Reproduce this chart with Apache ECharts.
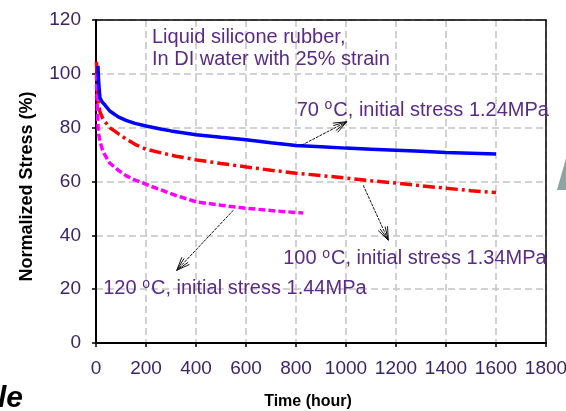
<!DOCTYPE html>
<html>
<head>
<meta charset="utf-8">
<script src="https://cdn.jsdelivr.net/npm/echarts@6/dist/echarts.min.js"></script>
<style>html,body{margin:0;padding:0;background:#fff;}#c{width:566px;height:411px;}</style>
</head>
<body>
<div id="c"></div>
<script>
// ---- data ----
const time70 = [8, 10, 13, 16, 25, 36, 55, 89, 120, 156, 200, 263, 300, 400, 500, 600, 700, 800, 900, 1000, 1100, 1200, 1300, 1400, 1500, 1600];
const stress70 = [103, 98, 94, 91, 89.5, 88.4, 86.2, 84, 82.7, 81.6, 80.6, 79.4, 78.8, 77.4, 76.4, 75.5, 74.4, 73.4, 72.9, 72.4, 72.0, 71.6, 71.2, 70.8, 70.5, 70.2];
const time100 = [2, 5, 9, 16, 25, 36, 55, 89, 120, 156, 200, 263, 320, 403, 500, 603, 700, 800, 900, 1000, 1100, 1200, 1300, 1400, 1500, 1600];
const stress100 = [104.5, 96, 89, 85.9, 83.8, 82.2, 80, 77.8, 75.8, 73.8, 72, 70.6, 69.4, 68, 66.7, 65.4, 64.2, 63.1, 62.2, 61.3, 60.3, 59.4, 58.4, 57.5, 56.6, 55.9];
const time120 = [2, 5, 9, 16, 25, 36, 55, 89, 120, 156, 176, 220, 263, 320, 403, 500, 576, 700, 829];
const stress120 = [100, 88, 78.4, 75, 72, 69.8, 66.8, 64.2, 62.2, 60.5, 59.9, 58.2, 56.8, 54.8, 52.4, 51.2, 50.3, 49.2, 48.3];

const xTicks = [0, 200, 400, 600, 800, 1000, 1200, 1400, 1600, 1800];
const yTicks = [0, 20, 40, 60, 80, 100, 120];

const noteTitle = ['Liquid silicone rubber,', 'In DI water with 25% strain'];
const noteTitlePos = [[224, 113.4], [224, 105.5]];
const labelTemps = ['70 ', '100 ', '120 '];
const labelRest = ['C, initial stress 1.24MPa', 'C, initial stress 1.34MPa', 'C, initial stress 1.44MPa'];
const labelPos = [[803, 86.5], [749, 31.3], [29, 20.1]];
// arrows: [from, to] in data coords
const arrows = [
  [[823, 73.5], [1003, 82.2]],
  [[1069, 58.6], [1169, 38.2]],
  [[549, 49.3], [323, 27.0]]
];

const toPairs = (xs, ys) => xs.map((x, i) => [x, ys[i]]);
const tickColor = '#3d2468';
const noteColor = '#5a2a86';
const FONT = 'Liberation Sans, Arial, sans-serif';
const gridLine = {show: true, lineStyle: {color: '#c4c4c4', width: 1.5, type: [7, 4]}};

const chart = echarts.init(document.getElementById('c'), null, {renderer: 'canvas'});
chart.setOption({
  animation: false,
  backgroundColor: '#fff',
  grid: {left: 96, right: 20, top: 20, bottom: 68, containLabel: false, outerBoundsMode: 'none'},
  xAxis: [{
    type: 'value', min: xTicks[0], max: xTicks[xTicks.length - 1], interval: 200,
    name: 'Time (hour)', nameLocation: 'middle', nameGap: 51,
    nameTextStyle: {fontFamily: FONT, fontSize: 16, fontWeight: 'bold', color: '#000', padding: [0, 26, 0, 0]},
    axisLine: {show: true, lineStyle: {color: '#000', width: 2}},
    axisTick: {show: true, length: 4, inside: false, lineStyle: {color: '#000', width: 1.5}},
    axisLabel: {fontFamily: FONT, fontSize: 19, color: tickColor, margin: 16, showMaxLabel: true,
      formatter: v => String(v)},
    splitLine: gridLine
  }, {
    type: 'value', position: 'top', min: xTicks[0], max: xTicks[xTicks.length - 1], interval: 200,
    axisLine: {show: true, onZero: false, lineStyle: {color: '#000', width: 1.5}},
    axisTick: {show: false}, axisLabel: {show: false}, splitLine: {show: false}
  }],
  yAxis: [{
    type: 'value', min: yTicks[0], max: yTicks[yTicks.length - 1], interval: 20,
    name: 'Normalized Stress (%)', nameLocation: 'middle', nameGap: 60, nameRotate: 90,
    nameTextStyle: {fontFamily: FONT, fontSize: 18, fontWeight: 'bold', color: '#000', padding: [0, 10, 0, 0]},
    axisLine: {show: true, lineStyle: {color: '#000', width: 2}},
    axisTick: {show: true, length: 4, inside: false, lineStyle: {color: '#000', width: 1.5}},
    axisLabel: {fontFamily: FONT, fontSize: 19, color: tickColor, margin: 15, formatter: v => String(v)},
    splitLine: gridLine
  }, {
    type: 'value', position: 'right', min: yTicks[0], max: yTicks[yTicks.length - 1], interval: 20,
    axisLine: {show: true, onZero: false, lineStyle: {color: '#000', width: 1.5}},
    axisTick: {show: false}, axisLabel: {show: false}, splitLine: {show: false}
  }],
  series: [
    {type: 'line', name: '70C', data: toPairs(time70, stress70), showSymbol: false,
     lineStyle: {color: '#0000ff', width: 3.5}, z: 4},
    {type: 'line', name: '100C', data: toPairs(time100, stress100), showSymbol: false,
     lineStyle: {color: '#ff0000', width: 3.5, type: [12, 4, 3, 4]}, z: 3},
    {type: 'line', name: '120C', data: toPairs(time120, stress120), showSymbol: false,
     lineStyle: {color: '#ff00ff', width: 3.5, type: [7, 3]}, z: 3}
  ]
});

function px(p) { return chart.convertToPixel({xAxisIndex: 0, yAxisIndex: 0}, p); }

const g = [];
noteTitle.forEach((t, i) => {
  const p = px(noteTitlePos[i]);
  g.push({type: 'text', x: p[0], y: p[1], z: 10,
    style: {text: t, fontFamily: FONT, fontSize: 20, fill: noteColor, align: 'left', verticalAlign: 'middle'}});
});
labelTemps.forEach((t, i) => {
  const p = px(labelPos[i]);
  g.push({type: 'text', x: p[0], y: p[1], z: 10,
    style: {
      text: '{a|' + t + '}{s|o}{a|' + labelRest[i] + '}',
      align: 'left', verticalAlign: 'middle',
      rich: {
        a: {fontFamily: FONT, fontSize: 20, lineHeight: 24, fill: noteColor, color: noteColor},
        s: {fontFamily: FONT, fontSize: 14, lineHeight: 14, verticalAlign: 'top', fill: noteColor, color: noteColor, padding: [0, 1, 0, 0]}
      }
    }});
});
arrows.forEach(a => {
  const p0 = px(a[0]), p1 = px(a[1]);
  const ang = Math.atan2(p1[1] - p0[1], p1[0] - p0[0]);
  g.push({type: 'line', z: 9, shape: {x1: p0[0], y1: p0[1], x2: p1[0], y2: p1[1]},
    style: {stroke: '#111', lineWidth: 1, lineDash: [3, 1]}});
  [-0.38, -0.2, 0.2, 0.38].forEach(d => {
    const L = 14;
    g.push({type: 'line', z: 9, shape: {x1: p1[0], y1: p1[1], x2: p1[0] - L * Math.cos(ang + d), y2: p1[1] - L * Math.sin(ang + d)},
      style: {stroke: '#111', lineWidth: 1}});
  });
});
// cropped fragments visible at the edges of the original picture
g.push({type: 'text', left: -2, top: 384, z: 10,
  style: {text: 'le', fontFamily: FONT, fontSize: 30, fontWeight: 'bold', fontStyle: 'italic', fill: '#000'}});
g.push({type: 'polygon', z: 10, shape: {points: [[566, 158], [566, 190], [557, 190]]},
  style: {fill: '#8ea3a3'}});
chart.setOption({graphic: g});
</script>
</body>
</html>
